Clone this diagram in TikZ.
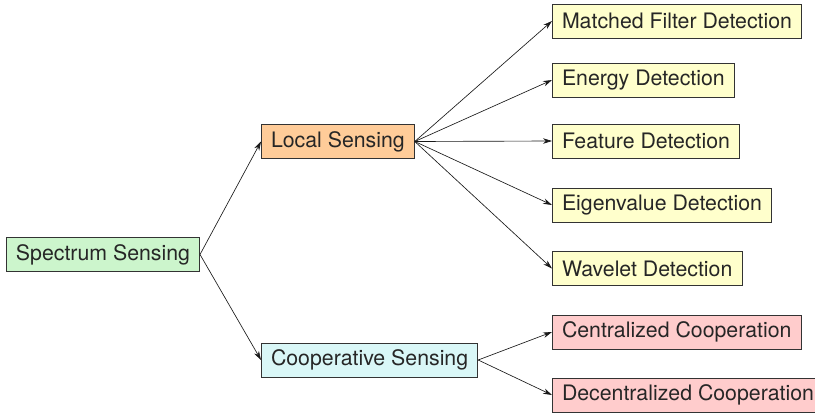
\documentclass[tikz,border=0pt]{standalone}
\usepackage{fontspec}
\setmainfont{TeX Gyre Heros}
\usetikzlibrary{arrows.meta}
\definecolor{bordc}{HTML}{333333}
\definecolor{cgreen}{HTML}{CCF5CC}
\definecolor{corange}{HTML}{FFCC99}
\definecolor{ccyan}{HTML}{D9F7F7}
\definecolor{cyellow}{HTML}{FFFFCC}
\definecolor{cpink}{HTML}{FFCCCC}
\begin{document}
\begin{tikzpicture}[x=1pt,y=-1pt,
  box/.style={draw=bordc,line width=0.8pt,anchor=west,minimum height=34pt,inner xsep=9.6pt,inner ysep=0pt,font=\fontsize{21.3}{25}\selectfont,text=black!85},
  conn/.style={draw=black!90,line width=0.65pt,-{Stealth[length=9pt,width=5.5pt]}}]
\useasboundingbox (0,0) rectangle (815,415);
\node[box,fill=cgreen] (ss) at (6,254.5) {Spectrum Sensing};
\node[box,fill=corange] (ls) at (261,141.5) {Local Sensing};
\node[box,fill=ccyan] (cs) at (261,360) {Cooperative Sensing};
\node[box,fill=cyellow] (mf) at (552,21) {Matched Filter Detection};
\node[box,fill=cyellow] (ed) at (552,80) {Energy Detection};
\node[box,fill=cyellow] (fd) at (552,141) {Feature Detection};
\node[box,fill=cyellow] (evd) at (552,205) {Eigenvalue Detection};
\node[box,fill=cyellow] (wd) at (552,268.5) {Wavelet Detection};
\node[box,fill=cpink] (cc) at (552,332) {Centralized Cooperation};
\node[box,fill=cpink] (dc) at (552,395) {Decentralized Cooperation};
\draw[conn] (ss.east) -- (ls.west);
\draw[conn] (ss.east) -- (cs.west);
\foreach \t in {mf,ed,fd,evd,wd} \draw[conn] (ls.east) -- (\t.west);
\draw[conn] (cs.east) -- (cc.west);
\draw[conn] (cs.east) -- (dc.west);
\end{tikzpicture}
\end{document}
